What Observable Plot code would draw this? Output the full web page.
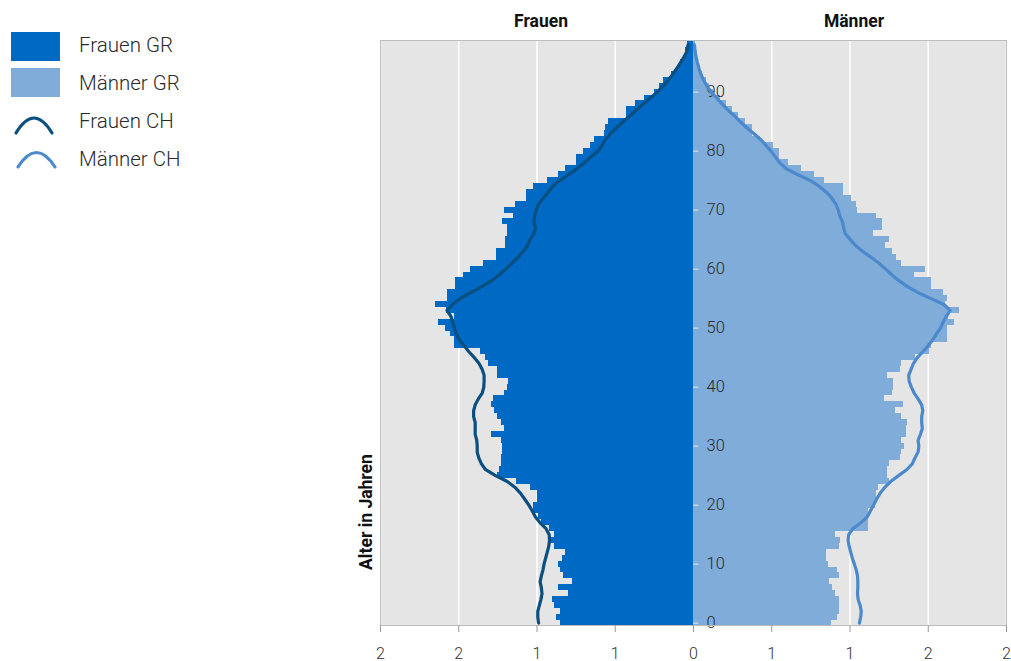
<!DOCTYPE html>
<html>
<head>
<meta charset="utf-8">
<script src="https://cdn.jsdelivr.net/npm/d3@7"></script>
<script src="https://cdn.jsdelivr.net/npm/@observablehq/plot@0.6"></script>
<style>
  html, body { margin: 0; padding: 0; background: #fff; }
  #wrap { position: relative; width: 1011px; height: 661px; font-family: Roboto, "Noto Sans", sans-serif; color: #222; }
  #chart { position: absolute; left: 0; top: 0; }
  #legend { position: absolute; left: 0; top: 0; width: 300px; height: 200px; }
  .li { position: absolute; left: 79px; font-size: 20.5px; font-weight: 300; line-height: 22px; color: #2a2a2a; white-space: nowrap; }
  .sw { position: absolute; left: 11px; width: 49px; height: 29px; }
  #ylabel { position: absolute; left: 366px; top: 512px; transform: translate(-50%, -50%) rotate(-90deg); font-size: 17.5px; font-weight: bold; white-space: nowrap; color: #111; }
</style>
</head>
<body>
<div id="wrap">
  <div id="chart"></div>
  <div id="legend"></div>
  <div id="ylabel">Alter in Jahren</div>
</div>
<script>
// ---- data (percent of population per one-year age group) ----
const ages = d3.range(0, 99);

const frauenGR = [
  0.85, 0.875, 0.85, 0.89, 0.90, 0.80, 0.86, 0.77, 0.83, 0.85,
  0.86, 0.84, 0.82, 0.89, 0.92, 0.89, 0.92, 0.97, 0.99, 1.02,
  1.02, 1.00, 1.00, 1.04, 1.13, 1.25, 1.24, 1.23, 1.23, 1.22,
  1.22, 1.23, 1.29, 1.21, 1.23, 1.25, 1.27, 1.29, 1.28, 1.21,
  1.19, 1.18, 1.25, 1.25, 1.31, 1.33, 1.36, 1.53, 1.53, 1.55,
  1.585, 1.63, 1.53, 1.58, 1.65, 1.57, 1.57, 1.52, 1.52, 1.47,
  1.425, 1.34, 1.26, 1.26, 1.20, 1.20, 1.19, 1.19, 1.22, 1.15,
  1.21, 1.14, 1.07, 1.07, 1.02, 0.93, 0.86, 0.82, 0.75, 0.75,
  0.70, 0.66, 0.63, 0.57, 0.56, 0.54, 0.43, 0.43, 0.37, 0.31,
  0.25, 0.22, 0.19, 0.14, 0.10, 0.08, 0.06, 0.05, 0.04
];

const maennerGR = [
  0.88, 0.92, 0.93, 0.93, 0.93, 0.91, 0.89, 0.87, 0.93, 0.92,
  0.86, 0.85, 0.85, 0.93, 0.94, 0.91, 1.12, 1.12, 1.11, 1.12,
  1.16, 1.17, 1.17, 1.18, 1.25, 1.24, 1.24, 1.25, 1.32, 1.33,
  1.35, 1.33, 1.36, 1.36, 1.37, 1.33, 1.29, 1.34, 1.22, 1.27,
  1.28, 1.28, 1.24, 1.32, 1.33, 1.42, 1.51, 1.52, 1.62, 1.62,
  1.62, 1.67, 1.63, 1.70, 1.61, 1.62, 1.60, 1.52, 1.52, 1.41,
  1.48, 1.33, 1.30, 1.27, 1.23, 1.25, 1.15, 1.21, 1.21, 1.17,
  1.05, 1.04, 1.01, 0.96, 0.96, 0.84, 0.77, 0.69, 0.61, 0.55,
  0.55, 0.51, 0.43, 0.375, 0.375, 0.33, 0.29, 0.25, 0.21, 0.17,
  0.13, 0.10, 0.08, 0.06, 0.045, 0.035, 0.025, 0.02, 0.01
];

const frauenCH = [
  0.99, 0.995, 0.995, 0.985, 0.975, 0.968, 0.972, 0.98, 0.972, 0.962,
  0.955, 0.945, 0.935, 0.925, 0.92, 0.922, 0.942, 0.98, 1.01, 1.03,
  1.052, 1.078, 1.105, 1.14, 1.19, 1.265, 1.328, 1.355, 1.372, 1.382,
  1.382, 1.385, 1.395, 1.395, 1.395, 1.405, 1.405, 1.395, 1.375, 1.35,
  1.34, 1.338, 1.338, 1.35, 1.37, 1.40, 1.435, 1.465, 1.495, 1.515,
  1.528, 1.538, 1.55, 1.575, 1.54, 1.49, 1.425, 1.355, 1.292, 1.242,
  1.20, 1.16, 1.122, 1.088, 1.06, 1.045, 1.02, 1.01, 1.02, 1.015,
  1.005, 0.99, 0.96, 0.93, 0.90, 0.855, 0.80, 0.745, 0.70, 0.655,
  0.61, 0.583, 0.562, 0.53, 0.49, 0.45, 0.405, 0.362, 0.32, 0.275,
  0.232, 0.195, 0.163, 0.133, 0.107, 0.083, 0.06, 0.04, 0.035
];

const maennerCH = [
  1.06, 1.068, 1.072, 1.065, 1.052, 1.048, 1.05, 1.05, 1.048, 1.04,
  1.028, 1.015, 1.005, 0.995, 0.988, 0.992, 1.018, 1.068, 1.11, 1.13,
  1.15, 1.17, 1.192, 1.222, 1.26, 1.31, 1.362, 1.398, 1.415, 1.435,
  1.44, 1.435, 1.45, 1.462, 1.458, 1.458, 1.465, 1.458, 1.435, 1.41,
  1.392, 1.378, 1.375, 1.39, 1.405, 1.43, 1.465, 1.498, 1.528, 1.552,
  1.578, 1.595, 1.615, 1.64, 1.60, 1.518, 1.435, 1.37, 1.315, 1.268,
  1.228, 1.185, 1.135, 1.082, 1.035, 1.002, 0.97, 0.96, 0.952, 0.935,
  0.925, 0.91, 0.885, 0.85, 0.805, 0.748, 0.668, 0.594, 0.552, 0.524,
  0.495, 0.462, 0.428, 0.385, 0.338, 0.298, 0.26, 0.219, 0.182, 0.148,
  0.113, 0.086, 0.065, 0.048, 0.035, 0.025, 0.016, 0.01, 0.006
];

const xTicks = [-2, -1.5, -1, -0.5, 0, 0.5, 1, 1.5, 2];
const xTickLabels = ["2", "2", "1", "1", "0", "1", "1", "2", "2"];
const ageTicks = [0, 10, 20, 30, 40, 50, 60, 70, 80, 90];
const sexLabels = ["Frauen", "Männer"];
const sexSide = [-1, 1];

const legendItems = ["Frauen GR", "Männer GR", "Frauen CH", "Männer CH"];
const colors = { frauenGR: "#0069c4", maennerGR: "#80acd9", frauenCH: "#0b4f80", maennerCH: "#4b89cc" };

// ---- table for the library ----
const rows = ages.map((a, i) => ({ age: a, f: frauenGR[i], m: maennerGR[i], fc: frauenCH[i], mc: maennerCH[i] }));
const titles = sexLabels.map((s, i) => ({ label: s, side: sexSide[i] }));

const chart = Plot.plot({
  width: 1011,
  height: 661,
  marginLeft: 380,
  marginRight: 5,
  marginTop: 40,
  marginBottom: 36,
  style: { fontFamily: "Roboto, 'Noto Sans', sans-serif", background: "transparent", overflow: "visible" },
  x: { domain: [-2, 2], ticks: xTicks, tickFormat: (d, i) => xTickLabels[i], label: null },
  y: { domain: [-0.4, 98.75], axis: null },
  marks: [
    Plot.frame({ fill: "#e5e5e5", stroke: null }),
    Plot.gridX(xTicks, { stroke: "#ffffff", strokeOpacity: 1, strokeWidth: 1.6 }),
    Plot.rect(rows, { x1: d => -d.f, x2: 0, y1: d => d.age - 0.5, y2: d => d.age + 0.5, fill: colors.frauenGR, clip: true, shapeRendering: "crispEdges" }),
    Plot.rect(rows, { x1: 0, x2: d => d.m, y1: d => d.age - 0.5, y2: d => d.age + 0.5, fill: colors.maennerGR, clip: true, shapeRendering: "crispEdges" }),
    Plot.ruleY(ageTicks, { y: d => d, x1: 0, x2: 0.035, stroke: "#e8e8e8", strokeWidth: 1 }),
    Plot.text(ageTicks, { y: d => d, x: 0, text: d => String(d), textAnchor: "start", dx: 13, fontSize: 16.5, fontWeight: 300, fill: "#2a2a2a" }),
    Plot.line(rows, { x: d => -d.fc, y: "age", stroke: colors.frauenCH, strokeWidth: 3.2, strokeLinejoin: "round", strokeLinecap: "round" }),
    Plot.line(rows, { x: "mc", y: "age", stroke: colors.maennerCH, strokeWidth: 3.2, strokeLinejoin: "round", strokeLinecap: "round" }),
    Plot.frame({ stroke: "#bdbdbd", strokeWidth: 1 }),
    Plot.axisX({ ticks: xTicks, tickFormat: (d, i) => xTickLabels[i], tickSize: 7, tickPadding: 15, fontSize: 16, fontWeight: 300, stroke: "#999", color: "#333", label: null }),
    Plot.text(titles, { x: "side", text: "label", frameAnchor: "top", lineAnchor: "middle", dy: -19, dx: 4, fontSize: 17.5, fontWeight: "bold", fill: "#111" })
  ]
});
document.getElementById("chart").appendChild(chart);

// ---- legend ----
const legend = document.getElementById("legend");
const legendTops = [45, 83, 121, 159];
legendItems.forEach((name, i) => {
  const t = document.createElement("div");
  t.className = "li";
  t.textContent = name;
  t.style.top = (legendTops[i] - 11) + "px";
  legend.appendChild(t);
});
[[colors.frauenGR, 32], [colors.maennerGR, 68]].forEach(([c, top]) => {
  const s = document.createElement("div");
  s.className = "sw";
  s.style.background = c;
  s.style.top = top + "px";
  legend.appendChild(s);
});
const svgNS = "http://www.w3.org/2000/svg";
const icons = document.createElementNS(svgNS, "svg");
icons.setAttribute("width", "70");
icons.setAttribute("height", "180");
icons.style.position = "absolute";
icons.style.left = "0px";
icons.style.top = "0px";
[[colors.frauenCH, 16, 52, 133, 108], [colors.maennerCH, 18, 55, 167, 143]].forEach(([c, x0, x1, yb, yt]) => {
  const p = document.createElementNS(svgNS, "path");
  const xm = (x0 + x1) / 2;
  p.setAttribute("d", `M${x0},${yb} Q${xm},${yt - 5} ${x1},${yb}`);
  p.setAttribute("fill", "none");
  p.setAttribute("stroke", c);
  p.setAttribute("stroke-width", "3.2");
  p.setAttribute("stroke-linecap", "round");
  icons.appendChild(p);
});
legend.appendChild(icons);
</script>
</body>
</html>
